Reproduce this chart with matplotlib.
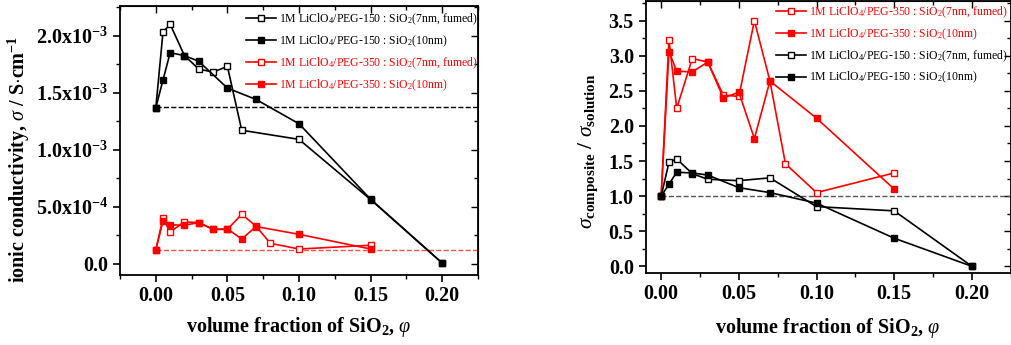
import matplotlib
matplotlib.use('Agg')
import matplotlib.pyplot as plt
from matplotlib.ticker import MultipleLocator, FixedLocator, FixedFormatter

plt.rcParams['font.family'] = 'Liberation Serif'
plt.rcParams['mathtext.fontset'] = 'custom'
plt.rcParams['mathtext.rm'] = 'Liberation Serif'
plt.rcParams['mathtext.it'] = 'Liberation Serif:italic'
plt.rcParams['mathtext.bf'] = 'Liberation Serif:bold'

# ---- left panel: ionic conductivity (S/cm) ----
x150_fumed = [0, 0.005, 0.01, 0.02, 0.03, 0.04, 0.05, 0.06, 0.10, 0.15, 0.20]
s150_fumed = [1.367e-3, 2.03e-3, 2.10e-3, 1.825e-3, 1.707e-3, 1.68e-3, 1.73e-3, 1.17e-3, 1.09e-3, 0.562e-3, 0.005e-3]
x150_10nm = [0, 0.005, 0.01, 0.02, 0.03, 0.05, 0.07, 0.10, 0.15, 0.20]
s150_10nm = [1.367e-3, 1.61e-3, 1.85e-3, 1.825e-3, 1.775e-3, 1.54e-3, 1.44e-3, 1.227e-3, 0.565e-3, 0.005e-3]
x350_fumed = [0, 0.005, 0.01, 0.02, 0.03, 0.04, 0.05, 0.06, 0.07, 0.08, 0.10, 0.15]
s350_fumed = [0.12e-3, 0.40e-3, 0.278e-3, 0.366e-3, 0.36e-3, 0.30e-3, 0.30e-3, 0.433e-3, 0.328e-3, 0.178e-3, 0.128e-3, 0.161e-3]
x350_10nm = [0, 0.005, 0.01, 0.02, 0.03, 0.04, 0.05, 0.06, 0.07, 0.10, 0.15]
s350_10nm = [0.12e-3, 0.374e-3, 0.34e-3, 0.337e-3, 0.36e-3, 0.30e-3, 0.305e-3, 0.216e-3, 0.325e-3, 0.257e-3, 0.128e-3]
base150 = 1.37e-3
base350 = 0.12e-3

# ---- right panel: sigma_composite / sigma_solution ----
r350_fumed_x = [0, 0.005, 0.01, 0.02, 0.03, 0.04, 0.05, 0.06, 0.07, 0.08, 0.10, 0.15]
r350_fumed = [1.0, 3.23, 2.25, 2.96, 2.91, 2.44, 2.42, 3.50, 2.64, 1.46, 1.05, 1.33]
r350_10nm_x = [0, 0.005, 0.01, 0.02, 0.03, 0.04, 0.05, 0.06, 0.07, 0.10, 0.15]
r350_10nm = [1.0, 3.06, 2.78, 2.77, 2.91, 2.40, 2.48, 1.82, 2.64, 2.11, 1.10]
r150_fumed_x = [0, 0.005, 0.01, 0.02, 0.03, 0.05, 0.07, 0.10, 0.15, 0.20]
r150_fumed = [1.0, 1.48, 1.53, 1.32, 1.24, 1.22, 1.26, 0.85, 0.79, 0.0]
r150_10nm_x = [0, 0.005, 0.01, 0.02, 0.03, 0.05, 0.07, 0.10, 0.15, 0.20]
r150_10nm = [1.0, 1.17, 1.34, 1.33, 1.30, 1.12, 1.05, 0.90, 0.40, 0.0]

lbl150f = r'1M LiClO$_4$/PEG-150 : SiO$_2$(7nm, fumed)'
lbl150 = r'1M LiClO$_4$/PEG-150 : SiO$_2$(10nm)'
lbl350f = r'1M LiClO$_4$/PEG-350 : SiO$_2$(7nm, fumed)'
lbl350 = r'1M LiClO$_4$/PEG-350 : SiO$_2$(10nm)'

RED = '#ff0000'
mk = dict(marker='s', markersize=4.6, lw=1.2, markeredgewidth=1.0)


def open_line(ax, x, y, c, label):
    ax.plot(x, y, color=c, markerfacecolor='white', markeredgecolor=c, label=label, **mk)


def filled_line(ax, x, y, c, label):
    ax.plot(x, y, color=c, markerfacecolor=c, markeredgecolor=c, label=label, **mk)


def style_axes(ax, ymajor, yminor):
    ax.xaxis.set_major_locator(MultipleLocator(0.05))
    ax.xaxis.set_minor_locator(MultipleLocator(0.025))
    ax.yaxis.set_major_locator(MultipleLocator(ymajor))
    ax.yaxis.set_minor_locator(MultipleLocator(yminor))
    ax.tick_params(which='major', direction='out', length=5, width=1.2)
    ax.tick_params(which='minor', direction='out', length=3, width=1.0)
    ax.tick_params(axis='x', labelsize=14.5, pad=3)
    ax.tick_params(axis='y', labelsize=14.5)
    for s in ax.spines.values():
        s.set_linewidth(1.3)
    sx = ax.secondary_xaxis('top')
    sx.xaxis.set_major_locator(MultipleLocator(0.05))
    sx.xaxis.set_minor_locator(MultipleLocator(0.025))
    sx.tick_params(which='major', direction='in', length=5, width=1.0, labeltop=False)
    sx.tick_params(which='minor', direction='in', length=3, width=1.0)
    sy = ax.secondary_yaxis('right')
    sy.yaxis.set_major_locator(MultipleLocator(ymajor))
    sy.yaxis.set_minor_locator(MultipleLocator(yminor))
    sy.tick_params(which='major', direction='in', length=5, width=1.0, labelright=False)
    sy.tick_params(which='minor', direction='in', length=3, width=1.0)


def bold_ticks(ax):
    for lab in ax.get_xticklabels() + ax.get_yticklabels():
        lab.set_fontweight('bold')


legend_kw = dict(loc='upper right', frameon=False, fontsize=8.5, handlelength=2.5,
                 handletextpad=0.3, labelspacing=0.55, borderaxespad=0,
                 labelcolor='linecolor')

fig = plt.figure(figsize=(10.12, 3.45), dpi=100)
ax1 = fig.add_axes([0.1186, 0.2029, 0.3537, 0.7797])
ax2 = fig.add_axes([0.638, 0.2078, 0.3607, 0.7893])

# left panel
ax1.plot([0, 0.225], [base150, base150], color='black', ls='--', lw=1.0)
ax1.plot([0, 0.225], [base350, base350], color='#ff5050', ls='--', lw=1.0)
open_line(ax1, x150_fumed, s150_fumed, 'black', lbl150f)
filled_line(ax1, x150_10nm, s150_10nm, 'black', lbl150)
open_line(ax1, x350_fumed, s350_fumed, RED, lbl350f)
filled_line(ax1, x350_10nm, s350_10nm, RED, lbl350)
ax1.set_xlim(-0.025, 0.225)
ax1.set_ylim(-1.0e-4, 2.26e-3)
style_axes(ax1, 5e-4, 2.5e-4)
yt = [0, 5e-4, 1e-3, 1.5e-3, 2e-3]
ax1.yaxis.set_major_locator(FixedLocator(yt))
ax1.yaxis.set_major_formatter(FixedFormatter([
    '0.0',
    r'5.0x10$^{\mathbf{-4}}$',
    r'1.0x10$^{\mathbf{-3}}$',
    r'1.5x10$^{\mathbf{-3}}$',
    r'2.0x10$^{\mathbf{-3}}$']))
bold_ticks(ax1)
ax1.set_xlabel(r'volume fraction of SiO$_\mathbf{2}$, $\varphi$', fontsize=14.5, fontweight='bold')
ax1.xaxis.set_label_coords(0.5, -0.15)
ax1.set_ylabel(r'ionic conductivity, $\sigma$ / S$\cdot$cm$^{\mathbf{-1}}$', fontsize=14.5, fontweight='bold')
ax1.yaxis.set_label_coords(-0.245, 0.43)
ax1.legend(bbox_to_anchor=(1.013, 0.997), **legend_kw)

# right panel
ax2.plot([0, 0.225], [1.0, 1.0], color='#555555', ls='--', lw=1.0)
open_line(ax2, r350_fumed_x, r350_fumed, RED, lbl350f)
filled_line(ax2, r350_10nm_x, r350_10nm, RED, lbl350)
open_line(ax2, r150_fumed_x, r150_fumed, 'black', lbl150f)
filled_line(ax2, r150_10nm_x, r150_10nm, 'black', lbl150)
ax2.set_xlim(-0.01, 0.225)
ax2.set_ylim(-0.1, 3.78)
style_axes(ax2, 0.5, 0.25)
rt = [0, 0.5, 1.0, 1.5, 2.0, 2.5, 3.0, 3.5]
ax2.yaxis.set_major_locator(FixedLocator(rt))
ax2.yaxis.set_major_formatter(FixedFormatter(['%.1f' % v for v in rt]))
bold_ticks(ax2)
ax2.set_xlabel(r'volume fraction of SiO$_\mathbf{2}$, $\varphi$', fontsize=14.5, fontweight='bold')
ax2.xaxis.set_label_coords(0.5, -0.155)
ax2.set_ylabel(r'$\sigma_{\mathbf{composite}}$ / $\sigma_{\mathbf{solution}}$', fontsize=15.5, fontweight='bold')
ax2.yaxis.set_label_coords(-0.125, 0.45)
ax2.legend(bbox_to_anchor=(1.005, 1.005), **legend_kw)

fig.savefig('out.png', dpi=100)
